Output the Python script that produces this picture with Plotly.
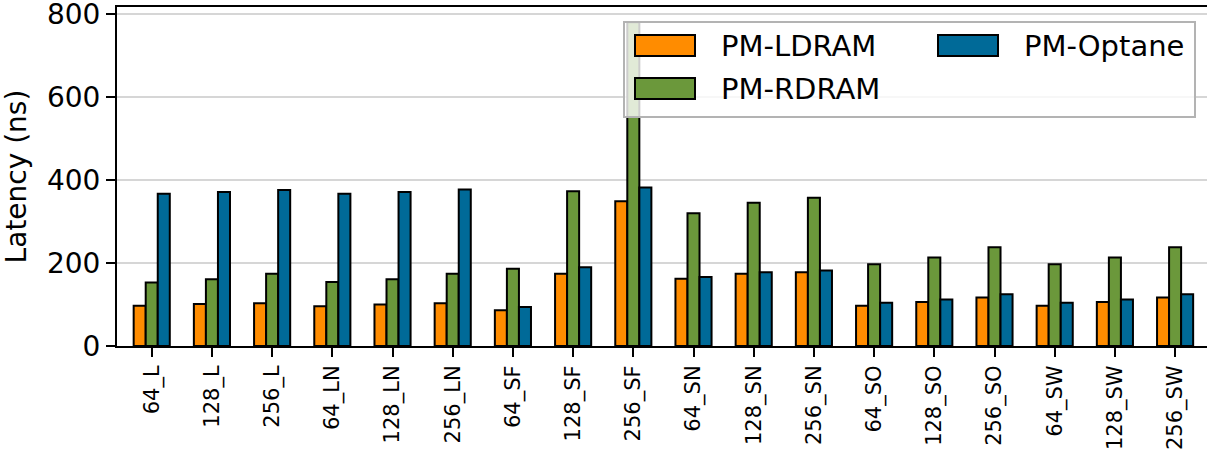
import plotly.graph_objects as go

categories = ["64_L", "128_L", "256_L", "64_LN", "128_LN", "256_LN",
              "64_SF", "128_SF", "256_SF", "64_SN", "128_SN", "256_SN",
              "64_SO", "128_SO", "256_SO", "64_SW", "128_SW", "256_SW"]

pm_ldram = [97, 101, 103, 96, 100, 103, 86, 174, 349, 162, 174, 178, 97, 106, 117, 97, 106, 117]
pm_rdram = [153, 161, 174, 154, 161, 174, 186, 373, 780, 320, 345, 357, 197, 213, 238, 197, 213, 238]
pm_optane = [367, 371, 376, 367, 371, 377, 94, 190, 382, 166, 178, 182, 104, 112, 125, 104, 112, 125]

names = ["PM-LDRAM", "PM-RDRAM", "PM-Optane"]
colors = ["#ff8c00", "#6b983b", "#006a98"]
values = [pm_ldram, pm_rdram, pm_optane]

font = "DejaVu Sans"
W, H = 1207, 454
L, R, T, B = 117, 0, 7, 108
pw, ph = W - L - R, H - T - B


def px_x(p):
    return (p - L) / pw


def px_y(p):
    return (H - B - p) / ph


fig = go.Figure()
for name, vals, color in zip(names, values, colors):
    fig.add_trace(go.Bar(
        x=categories, y=vals, name=name, showlegend=False,
        marker=dict(color=color, line=dict(color="black", width=2)),
    ))

# legend drawn by hand (matplotlib-style wide patches, 2 columns)
shapes = [dict(type="rect", xref="paper", yref="paper", layer="above",
               x0=px_x(624), x1=px_x(1195), y0=px_y(117), y1=px_y(22),
               fillcolor="rgba(255,255,255,0.8)", line=dict(color="#b3b3b3", width=2))]
annotations = []
slots = [(635, 35), (635, 78), (938, 35)]
for (sx, sy), name, color in zip(slots, names, colors):
    shapes.append(dict(type="rect", xref="paper", yref="paper", layer="above",
                       x0=px_x(sx), x1=px_x(sx + 60), y0=px_y(sy + 21), y1=px_y(sy),
                       fillcolor=color, line=dict(color="black", width=2)))
    annotations.append(dict(xref="paper", yref="paper", x=px_x(sx + 84), y=px_y(sy + 10.5),
                            text=name, showarrow=False, xanchor="left", yanchor="middle",
                            font=dict(family=font, size=29, color="black")))

fig.update_layout(
    width=W, height=H,
    margin=dict(l=L, r=R, t=T, b=B),
    plot_bgcolor="white", paper_bgcolor="white",
    font=dict(family=font, color="black", size=28),
    barmode="group", bargap=0.4, bargroupgap=0,
    showlegend=False,
    shapes=shapes, annotations=annotations,
)

fig.update_xaxes(
    range=[-0.577, 17.53], automargin=False,
    tickangle=-90, tickfont=dict(family=font, size=21),
    ticks="outside", ticklen=9, tickwidth=2, tickcolor="black",
    showline=True, linecolor="black", linewidth=2, mirror=True,
    showgrid=False,
)
fig.update_yaxes(
    range=[0, 817], tickvals=[0, 200, 400, 600, 800], automargin=False,
    tickfont=dict(family=font, size=28), ticklabeloverflow="allow",
    ticks="outside", ticklen=9, tickwidth=2, tickcolor="black",
    showline=True, linecolor="black", linewidth=2, mirror=True,
    showgrid=True, gridcolor="#d6d6d6", gridwidth=1.5,
    zeroline=False,
    title=dict(text="Latency (ns)", font=dict(family=font, size=28), standoff=12),
)

fig.write_html("out.html", config={"displayModeBar": False},
               post_script="document.body.style.margin='0';")
